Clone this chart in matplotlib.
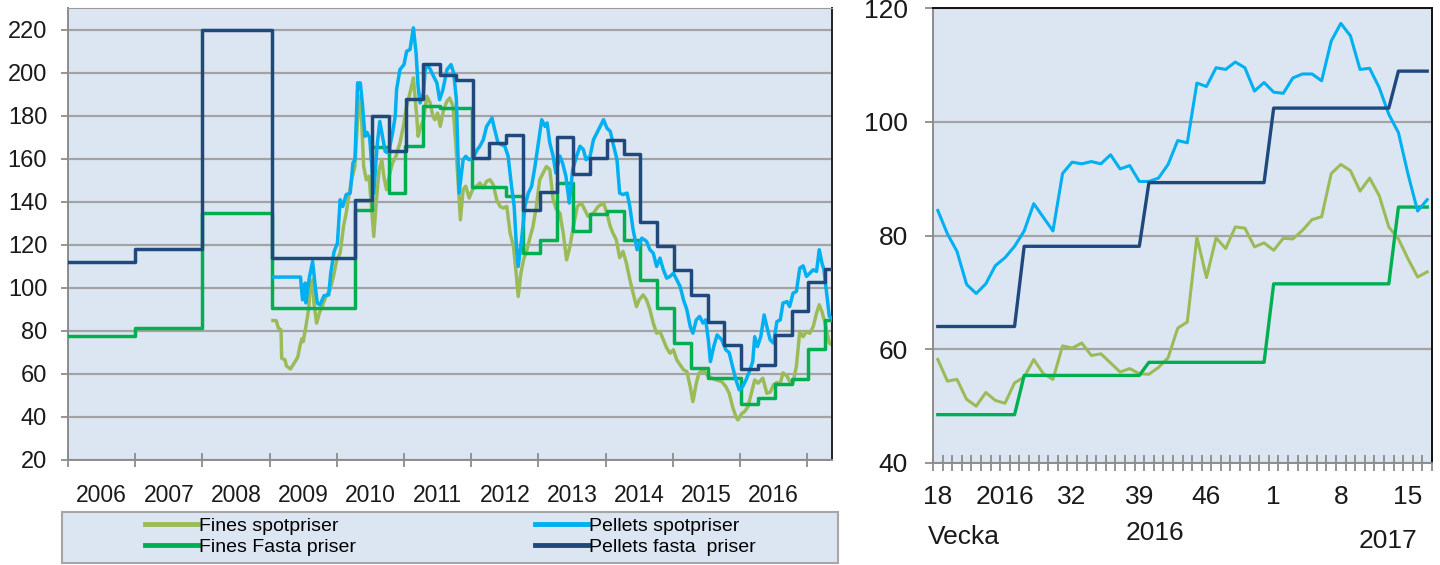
import matplotlib
matplotlib.use("Agg")
import matplotlib.pyplot as plt
import matplotlib.patches as patches
from matplotlib.lines import Line2D
from matplotlib.ticker import FixedLocator, NullFormatter

plt.rcParams['font.family'] = ['Liberation Sans', 'DejaVu Sans']

BG = '#DCE6F2'
GRID = '#A3A3A3'
C_FINES_SPOT = '#9BBB59'
C_PELLETS_SPOT = '#00B0F0'
C_FINES_FAST = '#00B050'
C_PELLETS_FAST = '#1F497D'

# ---------------- left chart: 2006 - 2017 (decimal years) ----------------
year_labels = ['2006', '2007', '2008', '2009', '2010', '2011',
               '2012', '2013', '2014', '2015', '2016']

# contract prices, value valid from given date (last point = end of series)
pellets_fasta_years = [2006.0, 2007.0, 2008.0, 2009.03, 2010.27, 2010.53, 2010.78,
                       2011.03, 2011.28, 2011.53, 2011.77, 2012.02, 2012.27, 2012.52,
                       2012.77, 2013.02, 2013.27, 2013.52, 2013.77, 2014.02, 2014.27,
                       2014.52, 2014.77, 2015.02, 2015.27, 2015.52, 2015.77, 2016.02,
                       2016.27, 2016.52, 2016.77, 2017.02, 2017.27, 2017.37]
pellets_fasta = [112, 118, 220, 114, 141, 180, 163.5,
                 187.5, 204, 199, 196.5, 160.5, 167.3, 171,
                 136, 144.5, 170, 153, 160.5, 168.8, 162,
                 130.8, 119.2, 108.4, 96.7, 84.3, 73.3, 62.2,
                 64.2, 78.1, 89.3, 102.5, 108.8, 108.8]

fines_fasta_years = [2006.0, 2007.0, 2008.0, 2009.03, 2010.27, 2010.52, 2010.77,
                     2011.02, 2011.28, 2011.53, 2012.01, 2012.52, 2012.77, 2013.02,
                     2013.27, 2013.52, 2013.77, 2014.02, 2014.27, 2014.52, 2014.77,
                     2015.02, 2015.27, 2015.52, 2016.02, 2016.27, 2016.52, 2016.77,
                     2017.02, 2017.27, 2017.37]
fines_fasta = [77.7, 81.5, 134.7, 90.5, 136, 165.3, 144,
               165.9, 184.5, 183.6, 146.8, 142.7, 116.1, 122.3,
               148.7, 126.4, 134.4, 135.5, 122.3, 103.7, 90.6,
               74.5, 62.6, 58.3, 46.0, 48.6, 55.5, 57.7,
               71.5, 85.0, 85.0]

pellets_spot_years = [2009.06, 2009.46, 2009.49, 2009.53, 2009.54, 2009.59, 2009.64, 2009.68,
                      2009.71, 2009.75, 2009.81, 2009.88, 2009.91, 2009.96, 2010.01, 2010.05,
                      2010.09, 2010.14, 2010.20, 2010.24, 2010.27, 2010.31, 2010.35, 2010.38,
                      2010.42, 2010.45, 2010.49, 2010.55, 2010.60, 2010.64, 2010.68, 2010.72,
                      2010.77, 2010.83, 2010.87, 2010.89, 2010.94, 2011.00, 2011.04, 2011.09,
                      2011.14, 2011.18, 2011.21, 2011.24, 2011.29, 2011.32, 2011.38, 2011.44,
                      2011.49, 2011.53, 2011.58, 2011.64, 2011.70, 2011.74, 2011.78, 2011.82,
                      2011.88, 2011.92, 2011.97, 2012.03, 2012.09, 2012.13, 2012.18, 2012.23,
                      2012.31, 2012.35, 2012.40, 2012.45, 2012.50, 2012.55, 2012.60, 2012.64,
                      2012.67, 2012.70, 2012.75, 2012.80, 2012.85, 2012.90, 2012.95, 2013.00,
                      2013.05, 2013.10, 2013.13, 2013.17, 2013.22, 2013.26, 2013.32, 2013.36,
                      2013.41, 2013.46, 2013.51, 2013.57, 2013.62, 2013.67, 2013.71, 2013.77,
                      2013.82, 2013.87, 2013.92, 2013.97, 2014.02, 2014.07, 2014.11, 2014.17,
                      2014.21, 2014.26, 2014.32, 2014.36, 2014.41, 2014.47, 2014.54, 2014.61,
                      2014.66, 2014.71, 2014.76, 2014.81, 2014.86, 2014.91, 2014.96, 2015.01,
                      2015.06, 2015.11, 2015.16, 2015.21, 2015.26, 2015.30, 2015.35, 2015.40,
                      2015.45, 2015.49, 2015.53, 2015.56, 2015.61, 2015.66, 2015.73, 2015.79,
                      2015.84, 2015.89, 2015.94, 2015.99, 2016.04, 2016.09, 2016.14, 2016.19,
                      2016.22, 2016.26, 2016.31, 2016.36, 2016.40, 2016.45, 2016.50, 2016.55,
                      2016.60, 2016.64, 2016.70, 2016.74, 2016.79, 2016.84, 2016.89, 2016.94,
                      2016.99, 2017.04, 2017.09, 2017.14, 2017.18, 2017.22, 2017.25, 2017.29,
                      2017.33, 2017.37]
pellets_spot = [105.0, 105.0, 94.4, 102.2, 93.0, 104.5, 112.2, 100.6,
                92.9, 92.1, 96.3, 96.7, 106.8, 116.9, 120.8, 140.9,
                137.8, 143.3, 144.0, 158.0, 159.5, 195.2, 195.2, 185.9,
                170.4, 172.2, 169.6, 144.0, 165.9, 177.3, 170.4, 163.4,
                162.6, 172.0, 179.7, 192.1, 201.4, 203.7, 209.9, 210.7,
                220.8, 209.1, 193.6, 185.9, 190.5, 202.9, 202.2, 198.3,
                195.2, 187.4, 192.1, 201.4, 203.7, 199.9, 187.4, 144.0,
                159.5, 161.1, 159.5, 160.3, 164.2, 165.8, 168.8, 175.0,
                178.9, 173.5, 167.3, 166.5, 165.8, 161.2, 147.3, 137.9,
                120.8, 109.9, 122.3, 137.8, 144.0, 147.2, 156.5, 167.3,
                178.1, 175.0, 176.6, 167.3, 161.2, 153.3, 161.2, 158.0,
                151.8, 139.4, 154.9, 161.2, 165.8, 164.2, 159.5, 161.2,
                168.8, 171.9, 175.0, 178.1, 174.2, 172.7, 167.3, 159.5,
                144.0, 143.3, 144.0, 138.0, 127.0, 117.7, 123.1, 121.6,
                117.7, 116.1, 109.9, 113.8, 108.4, 104.5, 105.3, 106.8,
                103.7, 100.6, 94.4, 89.8, 82.0, 78.9, 85.1, 86.7,
                83.6, 85.1, 75.8, 65.7, 72.7, 78.1, 75.8, 71.2,
                69.9, 63.4, 57.2, 52.6, 54.1, 57.2, 61.1, 65.7,
                77.3, 72.7, 77.3, 87.4, 82.0, 75.8, 74.3, 84.3,
                85.1, 92.9, 93.6, 91.3, 97.5, 98.3, 109.1, 110.2,
                105.3, 106.8, 108.4, 107.6, 117.7, 111.5, 108.4, 97.5,
                86.7, 86.0]

fines_spot_years = [2009.05, 2009.10, 2009.13, 2009.17, 2009.18, 2009.23, 2009.25, 2009.31,
                    2009.36, 2009.42, 2009.45, 2009.48, 2009.50, 2009.54, 2009.58, 2009.61,
                    2009.64, 2009.66, 2009.70, 2009.74, 2009.79, 2009.84, 2009.90, 2009.95,
                    2010.00, 2010.05, 2010.10, 2010.14, 2010.17, 2010.22, 2010.27, 2010.31,
                    2010.33, 2010.37, 2010.40, 2010.44, 2010.48, 2010.52, 2010.55, 2010.59,
                    2010.63, 2010.67, 2010.70, 2010.74, 2010.79, 2010.83, 2010.88, 2010.94,
                    2010.99, 2011.04, 2011.09, 2011.14, 2011.19, 2011.21, 2011.25, 2011.29,
                    2011.34, 2011.39, 2011.43, 2011.46, 2011.50, 2011.54, 2011.59, 2011.64,
                    2011.68, 2011.73, 2011.77, 2011.81, 2011.84, 2011.88, 2011.92, 2011.97,
                    2012.02, 2012.08, 2012.13, 2012.18, 2012.23, 2012.28, 2012.33, 2012.38,
                    2012.43, 2012.48, 2012.53, 2012.58, 2012.63, 2012.67, 2012.70, 2012.74,
                    2012.78, 2012.83, 2012.88, 2012.92, 2012.97, 2013.02, 2013.07, 2013.12,
                    2013.17, 2013.22, 2013.27, 2013.32, 2013.37, 2013.42, 2013.47, 2013.52,
                    2013.58, 2013.64, 2013.69, 2013.74, 2013.82, 2013.89, 2013.97, 2014.02,
                    2014.07, 2014.11, 2014.16, 2014.21, 2014.26, 2014.31, 2014.36, 2014.41,
                    2014.46, 2014.50, 2014.56, 2014.61, 2014.66, 2014.71, 2014.76, 2014.81,
                    2014.86, 2014.91, 2014.96, 2015.01, 2015.06, 2015.11, 2015.16, 2015.21,
                    2015.26, 2015.30, 2015.35, 2015.39, 2015.45, 2015.51, 2015.58, 2015.65,
                    2015.73, 2015.79, 2015.84, 2015.89, 2015.94, 2015.97, 2016.03, 2016.07,
                    2016.12, 2016.17, 2016.22, 2016.27, 2016.34, 2016.40, 2016.45, 2016.50,
                    2016.55, 2016.60, 2016.64, 2016.70, 2016.74, 2016.79, 2016.84, 2016.89,
                    2016.94, 2016.99, 2017.04, 2017.09, 2017.14, 2017.18, 2017.22, 2017.26,
                    2017.33, 2017.37]
fines_spot = [84.8, 84.7, 81.3, 80.5, 67.3, 66.5, 63.7, 62.3,
              64.7, 67.8, 72.7, 76.3, 75.0, 82.0, 89.8, 102.2,
              103.7, 92.9, 83.6, 88.2, 92.1, 96.0, 99.1, 105.3,
              113.0, 116.1, 128.5, 134.7, 140.9, 150.2, 156.4, 178.1,
              189.0, 178.1, 156.4, 150.2, 151.8, 136.3, 123.9, 140.9,
              154.9, 159.5, 151.8, 145.6, 153.3, 158.0, 161.1, 167.3,
              175.0, 184.4, 190.6, 197.5, 179.7, 170.4, 175.0, 178.1,
              189.0, 185.9, 179.7, 178.1, 181.2, 175.0, 182.8, 186.7,
              188.2, 184.4, 167.3, 147.1, 131.6, 145.6, 147.2, 141.7,
              145.6, 147.2, 148.7, 146.4, 149.5, 150.2, 147.9, 140.9,
              137.8, 137.1, 137.8, 125.4, 119.2, 106.8, 96.0, 106.8,
              113.0, 117.7, 123.9, 128.5, 137.8, 150.2, 153.3, 156.4,
              154.9, 140.9, 136.3, 134.7, 125.4, 113.0, 119.2, 128.5,
              137.8, 139.4, 136.3, 133.2, 134.7, 137.8, 139.4, 134.7,
              128.5, 125.4, 122.3, 114.0, 116.9, 111.5, 104.0, 97.5,
              91.3, 94.4, 96.7, 94.4, 89.8, 83.6, 78.9, 79.7,
              75.8, 72.0, 69.6, 71.2, 66.5, 64.2, 61.9, 61.1,
              54.1, 47.1, 55.7, 60.3, 61.9, 59.5, 58.0, 57.2,
              56.4, 54.1, 51.0, 44.8, 40.1, 38.6, 41.7, 42.5,
              44.8, 51.0, 57.2, 55.7, 58.0, 51.0, 51.5, 55.0,
              56.0, 55.5, 60.5, 59.0, 56.5, 56.0, 63.5, 79.7,
              77.3, 79.7, 78.9, 82.0, 88.2, 92.1, 89.0, 84.3,
              74.3, 73.5]

# ---------------- right chart: weekly, v18 2016 - v17 2017 ----------------
week_label_pos = [0, 7, 14, 21, 28, 35, 42, 49]
week_labels = ['18', '2016', '32', '39', '46', '1', '8', '15']

w_pellets_spot = [84.4, 80.3, 77.2, 71.4, 69.8, 71.5, 74.7, 76.1, 78.1, 80.8,
                  85.6, 83.2, 80.8, 90.9, 92.9, 92.6, 93.0, 92.6, 94.2, 91.7,
                  92.3, 89.5, 89.5, 90.1, 92.5, 96.7, 96.3, 106.8, 106.2, 109.5,
                  109.2, 110.5, 109.5, 105.4, 106.9, 105.2, 105.0, 107.7, 108.4, 108.4,
                  107.2, 114.2, 117.3, 115.1, 109.2, 109.4, 106.0, 101.3, 98.1, 90.8,
                  84.3, 86.3]
w_fines_spot = [58.2, 54.4, 54.7, 51.2, 50.0, 52.4, 51.0, 50.5, 54.1, 55.1,
                58.2, 55.7, 54.7, 60.6, 60.2, 61.1, 58.9, 59.2, 57.6, 56.0,
                56.6, 55.7, 55.6, 56.8, 58.5, 63.7, 64.8, 79.7, 72.6, 79.6,
                77.7, 81.5, 81.3, 78.0, 78.7, 77.4, 79.5, 79.4, 80.9, 82.8,
                83.3, 90.9, 92.5, 91.4, 87.8, 90.1, 87.0, 81.5, 79.4, 75.9,
                72.7, 73.6]
w_pellets_fasta = [64.0] * 9 + [78.1] * 13 + [89.3] * 13 + [102.4] * 13 + [108.9] * 4
w_fines_fasta = [48.5] * 9 + [55.4] * 13 + [57.7] * 13 + [71.5] * 13 + [85.0] * 4

W, H = 1440, 565
fig = plt.figure(figsize=(W / 100, H / 100), dpi=100)


def style_frame(ax):
    ax.set_facecolor(BG)
    ax.set_axisbelow(True)
    ax.grid(axis='y', color=GRID, linewidth=1.6)
    for side in ['left', 'bottom']:
        ax.spines[side].set_color('#8C8C8C')
        ax.spines[side].set_linewidth(1.4)


# ---------- left ----------
ax1 = fig.add_axes([68 / W, 1 - 460 / H, (832 - 68) / W, (460 - 8) / H])
style_frame(ax1)
ax1.spines['top'].set_color('#9A9A9A')
ax1.spines['right'].set_color('#222222')
ax1.spines['right'].set_linewidth(1.4)

ax1.plot(fines_spot_years, fines_spot, color=C_FINES_SPOT, lw=2.5, zorder=2)
ax1.plot(fines_fasta_years, fines_fasta, color=C_FINES_FAST, lw=2.5,
         drawstyle='steps-post', zorder=3)
ax1.plot(pellets_spot_years, pellets_spot, color=C_PELLETS_SPOT, lw=2.5, zorder=4)
ax1.plot(pellets_fasta_years, pellets_fasta, color=C_PELLETS_FAST, lw=2.5,
         drawstyle='steps-post', zorder=5)

ax1.set_xlim(2006.0, 2017.37)
ax1.set_ylim(20, 230)
ax1.set_yticks(range(20, 221, 20))
ax1.tick_params(axis='y', labelsize=17, length=5, width=1.3, color='#8C8C8C',
                pad=10, labelcolor='#1A1A1A')
yr_ticks = [2006 + i for i in range(12)]
ax1.xaxis.set_major_locator(FixedLocator(yr_ticks))
ax1.xaxis.set_major_formatter(NullFormatter())
ax1.xaxis.set_minor_locator(FixedLocator([y + 0.5 for y in yr_ticks[:-1]]))
ax1.set_xticklabels(year_labels, minor=True)
ax1.tick_params(axis='x', which='major', direction='inout', length=10, width=1.3,
                color='#8C8C8C')
ax1.tick_params(axis='x', which='minor', length=0, pad=17, labelsize=16.5,
                labelcolor='#1A1A1A')

# legend box under left chart
fig.patches.append(patches.Rectangle((62 / W, 1 - 563 / H), (838 - 62) / W, 51 / H,
                                     transform=fig.transFigure, facecolor=BG,
                                     edgecolor='#A6A6A6', linewidth=1.5))
col1 = [Line2D([], [], color=C_FINES_SPOT, lw=3.5), Line2D([], [], color=C_FINES_FAST, lw=3.5)]
col2 = [Line2D([], [], color=C_PELLETS_SPOT, lw=3.5), Line2D([], [], color=C_PELLETS_FAST, lw=3.5)]
leg_kw = dict(loc='upper left', frameon=False, fontsize=14, handlelength=2.7,
              handletextpad=0.1, labelspacing=0.2, borderpad=0, borderaxespad=0)
fig.legend(col1, ['Fines spotpriser', 'Fines Fasta priser'],
           bbox_to_anchor=(145 / W, 1 - 517 / H), **leg_kw)
fig.legend(col2, ['Pellets spotpriser', 'Pellets fasta  priser'],
           bbox_to_anchor=(535 / W, 1 - 517 / H), **leg_kw)

# ---------- right ----------
ax2 = fig.add_axes([933 / W, 1 - 463 / H, (1432 - 933) / W, (463 - 8) / H])
style_frame(ax2)
ax2.spines['top'].set_color('#111111')
ax2.spines['right'].set_color('#111111')
ax2.spines['top'].set_linewidth(1.4)
ax2.spines['right'].set_linewidth(1.4)

wk = list(range(len(w_pellets_spot)))
ax2.plot(wk, w_fines_spot, color=C_FINES_SPOT, lw=2.2, zorder=2)
ax2.plot(wk, w_fines_fasta, color=C_FINES_FAST, lw=2.4, zorder=3)
ax2.plot(wk, w_pellets_spot, color=C_PELLETS_SPOT, lw=2.2, zorder=4)
ax2.plot(wk, w_pellets_fasta, color=C_PELLETS_FAST, lw=2.4, zorder=5)

ax2.set_xlim(-0.5, len(wk) - 0.5)
ax2.set_ylim(40, 120)
ax2.set_yticks([40, 60, 80, 100, 120])
ax2.tick_params(axis='y', labelsize=19, length=6, width=1.3, color='#8C8C8C',
                pad=12, labelcolor='#1A1A1A')
ax2.xaxis.set_major_locator(FixedLocator(week_label_pos))
ax2.set_xticklabels(week_labels)
ax2.xaxis.set_minor_locator(FixedLocator([i - 0.5 for i in range(len(wk) + 1)]))
ax2.tick_params(axis='x', which='major', length=0, pad=16, labelsize=19,
                labelcolor='#1A1A1A')
ax2.tick_params(axis='x', which='minor', direction='inout', length=11, width=1.3,
                color='#8C8C8C')

fig.text(928 / W, 1 - 537 / H, 'Vecka', fontsize=19, color='#1A1A1A',
         ha='left', va='center')
fig.text(1155 / W, 1 - 533 / H, '2016', fontsize=19, color='#1A1A1A',
         ha='center', va='center')
fig.text(1388 / W, 1 - 541 / H, '2017', fontsize=19, color='#1A1A1A',
         ha='center', va='center')

fig.savefig('out.png', dpi=100, facecolor='white')
